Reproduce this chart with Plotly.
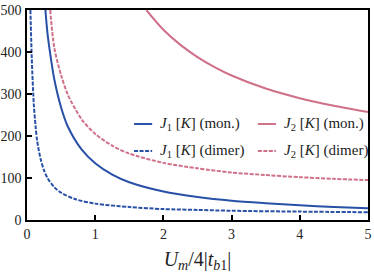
import plotly.graph_objects as go

# Data
x_j1_mon = [0.27, 0.3, 0.35, 0.4, 0.5, 0.6, 0.8, 1.0, 1.25, 1.5, 2.0, 2.5, 3.0, 3.5, 4.0, 4.5, 5.0]
y_j1_mon = [500, 445, 385, 335, 268, 222, 168, 135, 108, 90, 68, 55, 46, 40, 35, 31, 28]

x_j1_dim = [0.05, 0.07, 0.1, 0.125, 0.15, 0.2, 0.25, 0.3, 0.4, 0.5, 0.7, 1.0, 1.5, 2.0, 2.5, 3.0, 4.0, 5.0]
y_j1_dim = [500, 385, 275, 225, 187, 145, 118, 100, 78, 65, 50, 39, 31, 26, 24, 22, 20, 18.5]

x_j2_mon = [1.75, 2.0, 2.25, 2.5, 2.75, 3.0, 3.5, 4.0, 4.5, 5.0]
y_j2_mon = [500, 453, 417, 388, 364, 344, 313, 290, 272, 257]

x_j2_dim = [0.34, 0.4, 0.5, 0.6, 0.8, 1.0, 1.25, 1.5, 2.0, 2.5, 3.0, 3.5, 4.0, 4.5, 5.0]
y_j2_dim = [500, 410, 345, 298, 240, 205, 177, 158, 136, 123, 113, 107, 102, 98, 95]

names = [
    "<i>J</i><sub>1</sub> [<i>K</i>] (mon.)",
    "<i>J</i><sub>2</sub> [<i>K</i>] (mon.)",
    "<i>J</i><sub>1</sub> [<i>K</i>] (dimer)",
    "<i>J</i><sub>2</sub> [<i>K</i>] (dimer)",
]

BLUE = "#2850a6"
PINK = "#cf7088"
DASH = "4px,1.5px"
SERIF = "'Liberation Serif', 'DejaVu Serif', serif"

series = [
    (x_j1_mon, y_j1_mon, BLUE, "solid", names[0]),
    (x_j2_mon, y_j2_mon, PINK, "solid", names[1]),
    (x_j1_dim, y_j1_dim, BLUE, DASH, names[2]),
    (x_j2_dim, y_j2_dim, PINK, DASH, names[3]),
]

fig = go.Figure()
for xs, ys, col, dash, nm in series:
    fig.add_trace(go.Scatter(
        x=xs, y=ys, mode="lines", name=nm, showlegend=False,
        line=dict(color=col, width=2, dash=dash, shape="spline", smoothing=0.8),
    ))

# manual legend (paper coordinates)
leg_pos = [
    (0.314, 0.457), (0.677, 0.457),
    (0.314, 0.329), (0.677, 0.329),
]
for (lx, ly), (_, _, col, dash, nm) in zip(leg_pos, series):
    fig.add_shape(type="line", xref="paper", yref="paper",
                  x0=lx, x1=lx + 0.053, y0=ly, y1=ly,
                  line=dict(color=col, width=2, dash=dash))
    fig.add_annotation(xref="paper", yref="paper", x=lx + 0.070, y=ly,
                       xanchor="left", yanchor="middle", showarrow=False,
                       text=nm, font=dict(family=SERIF, size=15, color="#222"))

axis_common = dict(
    showline=True, linecolor="black", linewidth=1.6, mirror=True,
    ticks="inside", ticklen=5, tickwidth=1.6, tickcolor="black",
    showgrid=False, zeroline=False, automargin=False,
    tickfont=dict(family=SERIF, size=14, color="#222"),
)

fig.update_layout(
    width=374, height=277,
    margin=dict(l=27, r=6, t=10, b=57),
    paper_bgcolor="white", plot_bgcolor="white",
    font=dict(family=SERIF),
    xaxis=dict(range=[0, 5], tickvals=[0, 1, 2, 3, 4, 5], **axis_common,
               title=dict(text="<i>U</i><sub><i>m</i></sub>/4|<i>t</i><sub><i>b</i>1</sub>|",
                          font=dict(family=SERIF, size=20, color="#222"), standoff=11)),
    yaxis=dict(range=[0, 500], tickvals=[0, 100, 200, 300, 400, 500], ticklabelstandoff=1,
               **axis_common),
)

fig.write_html("out.html", config={"displayModeBar": False},
               post_script="document.body.style.margin='0';")
